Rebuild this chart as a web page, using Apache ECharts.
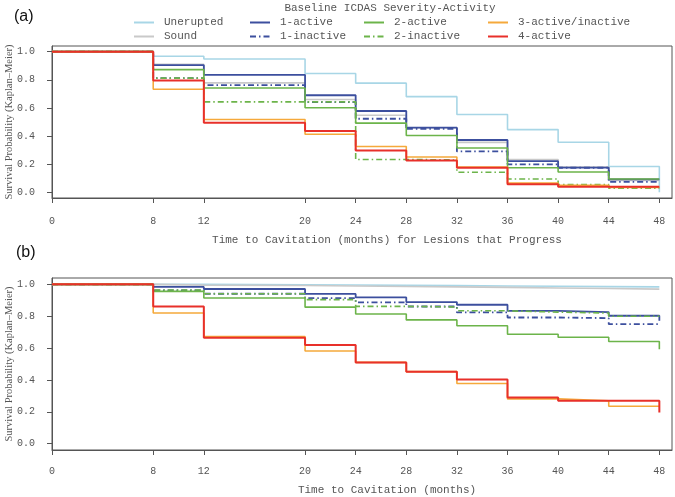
<!DOCTYPE html>
<html>
<head>
<meta charset="utf-8">
<script src="https://cdn.jsdelivr.net/npm/echarts@6/dist/echarts.min.js"></script>
<style>html,body{margin:0;padding:0;background:#fff}#c{width:675px;height:497px}</style>
</head>
<body>
<div id="c"></div>
<script>
// Time points (months); each value holds from its time until the next time
const months = [0, 8, 12, 20, 24, 28, 32, 36, 40, 44, 48];
const groupNames = ['Unerupted', 'Sound', '1-active', '1-inactive', '2-active', '2-inactive', '3-active/inactive', '4-active'];
const xTickLabels = [0, 8, 12, 20, 24, 28, 32, 36, 40, 44, 48];
const yTickLabels = [0, 0.2, 0.4, 0.6, 0.8, 1.0];

// Panel (a): lesions that progress
const aUnerupted = [1, 0.967, 0.948, 0.845, 0.776, 0.680, 0.553, 0.446, 0.356, 0.184, 0.0];
const aSound     = [1, 0.910, 0.778, 0.660, 0.548, 0.459, 0.355, 0.234, 0.180, 0.085, 0.085];
const a1Active   = [1, 0.904, 0.835, 0.690, 0.578, 0.460, 0.372, 0.222, 0.176, 0.092, 0.092];
const a1Inactive = [1, 0.812, 0.762, 0.641, 0.523, 0.452, 0.291, 0.199, 0.175, 0.074, 0.074];
const a2Active   = [1, 0.872, 0.742, 0.601, 0.492, 0.404, 0.315, 0.175, 0.145, 0.095, 0.095];
const a2Inactive = [1, 0.812, 0.643, 0.643, 0.234, 0.230, 0.143, 0.095, 0.055, 0.030, 0.030];
const a3Active   = [1, 0.733, 0.518, 0.413, 0.326, 0.251, 0.180, 0.066, 0.050, 0.035, 0.035];
const a4Active   = [1, 0.794, 0.494, 0.436, 0.298, 0.227, 0.175, 0.057, 0.040, 0.040, 0.040];

// Panel (b): all lesions
const bUnerupted = [1, 1.000, 0.998, 0.996, 0.994, 0.992, 0.990, 0.988, 0.986, 0.984, 0.984];
const bSound     = [1, 0.995, 0.993, 0.990, 0.987, 0.984, 0.981, 0.977, 0.974, 0.970, 0.968];
const b1Active   = [1, 0.984, 0.971, 0.940, 0.918, 0.889, 0.872, 0.834, 0.826, 0.803, 0.771];
const b1Inactive = [1, 0.962, 0.941, 0.914, 0.887, 0.861, 0.824, 0.792, 0.788, 0.750, 0.750];
const b2Active   = [1, 0.956, 0.914, 0.857, 0.814, 0.777, 0.740, 0.687, 0.668, 0.641, 0.593];
const b2Inactive = [1, 0.965, 0.941, 0.904, 0.862, 0.858, 0.834, 0.826, 0.820, 0.800, 0.800];
const b3Active   = [1, 0.820, 0.672, 0.582, 0.510, 0.452, 0.378, 0.281, 0.269, 0.235, 0.235];
const b4Active   = [1, 0.861, 0.665, 0.620, 0.510, 0.452, 0.403, 0.290, 0.269, 0.269, 0.196];

const panelA = [aUnerupted, aSound, a1Active, a1Inactive, a2Active, a2Inactive, a3Active, a4Active];
const panelB = [bUnerupted, bSound, b1Active, b1Inactive, b2Active, b2Inactive, b3Active, b4Active];

const styles = [
  {color: '#a8d6e6', type: 'solid', width: 1.6},
  {color: '#c9c9c9', type: 'solid', width: 1.6},
  {color: '#3c4f9e', type: 'solid', width: 1.8},
  {color: '#3c4f9e', type: [6, 3, 1.5, 3], width: 1.8},
  {color: '#6cb44a', type: 'solid', width: 1.6},
  {color: '#6cb44a', type: [6, 3, 1.5, 3], width: 1.6},
  {color: '#f5a93b', type: 'solid', width: 1.6},
  {color: '#e8302a', type: 'solid', width: 2}
];

const mono = '"Liberation Mono", "DejaVu Sans Mono", monospace';
const serif = '"Liberation Serif", "DejaVu Serif", serif';
const txt = '#555';
const yTitle = 'Survival Probability (Kaplan–Meier)';

function makeSeries(values, idx) {
  return values.map((arr, i) => ({
    name: groupNames[i],
    type: 'line',
    step: 'end',
    symbol: 'none',
    silent: true,
    animation: false,
    xAxisIndex: idx, yAxisIndex: idx,
    lineStyle: {color: styles[i].color, type: styles[i].type, width: styles[i].width},
    itemStyle: {color: styles[i].color},
    data: months.map((m, j) => [m, arr[j]])
  }));
}

function xAxis(idx) {
  return {
    type: 'value', gridIndex: idx, min: 0, max: 49,
    splitLine: {show: false},
    axisLine: {show: true, onZero: false, lineStyle: {color: '#555', width: 1}},
    axisTick: {show: true, length: 5, inside: false, lineStyle: {color: '#555'}, customValues: xTickLabels},
    axisLabel: {customValues: xTickLabels, margin: idx === 0 ? 18 : 16, color: txt, fontFamily: mono, fontSize: 10}
  };
}
function yAxis(idx) {
  return {
    type: 'value', gridIndex: idx, min: -0.04, max: 1.04,
    splitLine: {show: false},
    axisLine: {show: true, onZero: false, lineStyle: {color: '#555', width: 1}},
    axisTick: {show: true, length: 5, inside: false, lineStyle: {color: '#555'}, customValues: yTickLabels},
    axisLabel: {customValues: yTickLabels, margin: 17, color: txt, fontFamily: mono, fontSize: 10,
      formatter: v => v.toFixed(1)}
  };
}

const legendCols = [133, 249, 363, 487];
const legendRows = [17, 31];
const legends = groupNames.map((n, i) => {
  const pos = [[0,0],[0,1],[1,0],[1,1],[2,0],[2,1],[3,0],[3,1]][i];
  return {
    data: [n], left: legendCols[pos[0]], top: legendRows[pos[1]],
    itemWidth: 20, itemHeight: 10, selectedMode: false, padding: 0,
    itemStyle: {opacity: 0},
    textStyle: {color: txt, fontFamily: mono, fontSize: 11, padding: [0, 0, 0, 5]}
  };
});

const chart = echarts.init(document.getElementById('c'), null, {renderer: 'canvas'});
chart.setOption({
  animation: false,
  backgroundColor: '#fff',
  legend: legends,
  grid: [
    {left: 52, top: 46, width: 620, height: 152, show: true, borderColor: '#555', borderWidth: 1,
     backgroundColor: 'transparent', containLabel: false, outerBoundsMode: 'none'},
    {left: 52, top: 278, width: 620, height: 172, show: true, borderColor: '#555', borderWidth: 1,
     backgroundColor: 'transparent', containLabel: false, outerBoundsMode: 'none'}
  ],
  xAxis: [xAxis(0), xAxis(1)],
  yAxis: [yAxis(0), yAxis(1)],
  graphic: [
    {type: 'text', left: 14, top: 9, style: {text: '(a)', fill: '#111', font: '16px "Liberation Sans", "Open Sans", sans-serif'}},
    {type: 'text', left: 16, top: 245, style: {text: '(b)', fill: '#111', font: '16px "Liberation Sans", "Open Sans", sans-serif'}},
    {type: 'text', x: 390, y: 8, style: {text: 'Baseline ICDAS Severity-Activity', fill: txt, align: 'center', verticalAlign: 'middle', font: '11px ' + mono}},
    {type: 'text', x: 387, y: 240, style: {text: 'Time to Cavitation (months) for Lesions that Progress', fill: txt, align: 'center', verticalAlign: 'middle', font: '11px ' + mono}},
    {type: 'text', x: 387, y: 490, style: {text: 'Time to Cavitation (months)', fill: txt, align: 'center', verticalAlign: 'middle', font: '11px ' + mono}},
    {type: 'text', x: 9, y: 122, rotation: Math.PI / 2, style: {text: yTitle, fill: txt, align: 'center', verticalAlign: 'middle', font: '10.5px ' + serif}},
    {type: 'text', x: 9, y: 364, rotation: Math.PI / 2, style: {text: yTitle, fill: txt, align: 'center', verticalAlign: 'middle', font: '10.5px ' + serif}}
  ],
  series: makeSeries(panelA, 0).concat(makeSeries(panelB, 1))
});
</script>
</body>
</html>
